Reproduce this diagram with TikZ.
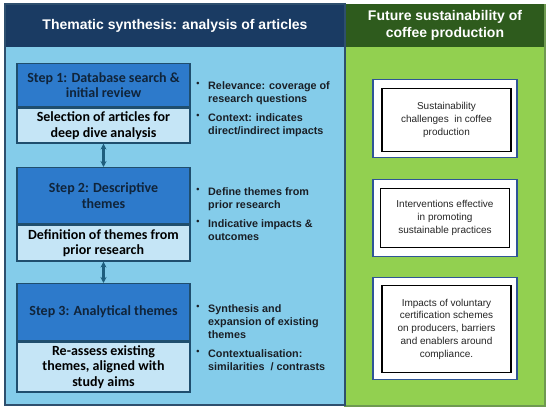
\documentclass[tikz,border=0pt]{standalone}
\usepackage{fontspec}
\setmainfont{Liberation Sans}
\newfontfamily\hdrfont{Liberation Sans}
\newfontfamily\stepfont{Carlito}
\usetikzlibrary{arrows.meta}
\definecolor{hdrblue}{HTML}{1A3B63}
\definecolor{panelblue}{HTML}{84CCEA}
\definecolor{hdrgreen}{HTML}{2E5B1D}
\definecolor{panelgreen}{HTML}{92D050}
\definecolor{stepdark}{HTML}{2D7ACB}
\definecolor{steplight}{HTML}{C5E5F6}
\definecolor{stepborder}{HTML}{1F4E6E}
\definecolor{arrowcol}{HTML}{1F5E7E}
\definecolor{leftedge}{HTML}{2E4F6E}
\definecolor{rightedge}{HTML}{6E9A50}
\definecolor{boxblue}{HTML}{2F5597}
\definecolor{textdark}{HTML}{10243A}
\definecolor{bultextcol}{HTML}{1A1F26}
\tikzset{
  stepdarkbox/.style={draw=stepborder, line width=1.3pt, fill=stepdark, minimum width=173pt, inner sep=2pt, align=center, text=textdark, font=\stepfont\bfseries\fontsize{14}{15.5}\selectfont, anchor=north},
  steplightbox/.style={draw=stepborder, line width=1.3pt, fill=steplight, minimum width=173pt, inner sep=2pt, align=center, text=black, font=\stepfont\bfseries\fontsize{14}{15.5}\selectfont, anchor=north},
  bul/.style={inner sep=0pt, font=\hdrfont\bfseries\fontsize{9}{12}\selectfont, text=bultextcol, anchor=north},
  bultext/.style={inner sep=0pt, align=left, font=\hdrfont\bfseries\fontsize{10.8}{13}\selectfont, text=bultextcol, anchor=north west},
  linkarrow/.style={{Stealth[length=6pt,width=6pt]}-{Stealth[length=6pt,width=6pt]}, line width=2.4pt, draw=arrowcol},
  outerbox/.style={draw=boxblue, line width=1.3pt, fill=white, minimum width=144pt, anchor=north},
  innerbox/.style={draw=black, line width=1.2pt, fill=white, minimum width=129pt, align=center, font=\hdrfont\fontsize{10}{12.8}\selectfont, text=black!85, anchor=north},
  hdrtext/.style={text=white, align=center, font=\hdrfont\bfseries\fontsize{14}{16.5}\selectfont}
}
\begin{document}
\begin{tikzpicture}[x=1pt,y=-1pt]
\useasboundingbox (0,0) rectangle (550,411);
\fill[white] (0,0) rectangle (550,411);
% left panel
\fill[panelblue] (5,4) rectangle (345,405);
\fill[hdrblue] (5,4) rectangle (345,47);
\draw[leftedge, line width=1.2pt] (5,4) rectangle (345,405);
\node[hdrtext] (lhdr) at (175,26) {Thematic synthesis: analysis of articles};
% right panel
\fill[panelgreen] (345,4) rectangle (545,406);
\fill[hdrgreen] (345,4) rectangle (545,47);
\draw[rightedge, line width=1.2pt] (345,47) -- (345,406) -- (545,406) -- (545,4);
\draw[leftedge, line width=1.2pt] (345,4) -- (345,406);
\node[hdrtext] (rhdr) at (445,25.5) {Future sustainability of\\coffee production};
% steps
\node[stepdarkbox, minimum height=43pt] (s1a) at (103.5,63) {Step 1: Database search \&\\initial review};
\node[steplightbox, minimum height=35pt] (s1b) at (s1a.south) {Selection of articles for\\deep dive analysis};
\node[stepdarkbox, minimum height=56pt] (s2a) at (103.5,167) {Step 2: Descriptive\\themes};
\node[steplightbox, minimum height=36pt] (s2b) at (s2a.south) {Definition of themes from\\prior research};
\node[stepdarkbox, minimum height=57pt] (s3a) at (103.5,283) {Step 3: Analytical themes};
\node[steplightbox, minimum height=50pt] (s3b) at (s3a.south) {Re-assess existing\\themes, aligned with\\study aims};
\draw[linkarrow] (s1b.south) -- (s2a.north);
\draw[linkarrow] (s2b.south) -- (s3a.north);
% bullets
\node[bul] (d1) at (198,82.5) {\textbullet};
\node[bultext] (t1) at (208,81) {Relevance: coverage of\\research questions};
\node[bul] (d2) at (198,114.5) {\textbullet};
\node[bultext] (t2) at (208,113) {Context: indicates\\direct/indirect impacts};
\node[bul] (d3) at (198,188.5) {\textbullet};
\node[bultext] (t3) at (208,187) {Define themes from\\prior research};
\node[bul] (d4) at (198,220.5) {\textbullet};
\node[bultext] (t4) at (208,219) {Indicative impacts \&\\outcomes};
\node[bul] (d5) at (198,305.5) {\textbullet};
\node[bultext] (t5) at (208,304) {Synthesis and\\expansion of existing\\themes};
\node[bul] (d6) at (198,350.5) {\textbullet};
\node[bultext] (t6) at (208,349) {Contextualisation:\\similarities \ / contrasts};
% right boxes
\node[outerbox, minimum height=78pt] (o1) at (445,79) {};
\node[innerbox, minimum height=63pt] (i1) at (446.5,88) {Sustainability\\challenges \ in coffee\\production};
\node[outerbox, minimum height=77pt] (o2) at (445,179) {};
\node[innerbox, minimum height=59pt] (i2) at (445,188) {Interventions effective\\in promoting\\sustainable practices};
\node[outerbox, minimum height=102pt] (o3) at (445,277) {};
\node[innerbox, minimum height=87pt] (i3) at (446.5,285) {Impacts of voluntary\\certification schemes\\on producers, barriers\\and enablers around\\compliance.};
\end{tikzpicture}
\end{document}
